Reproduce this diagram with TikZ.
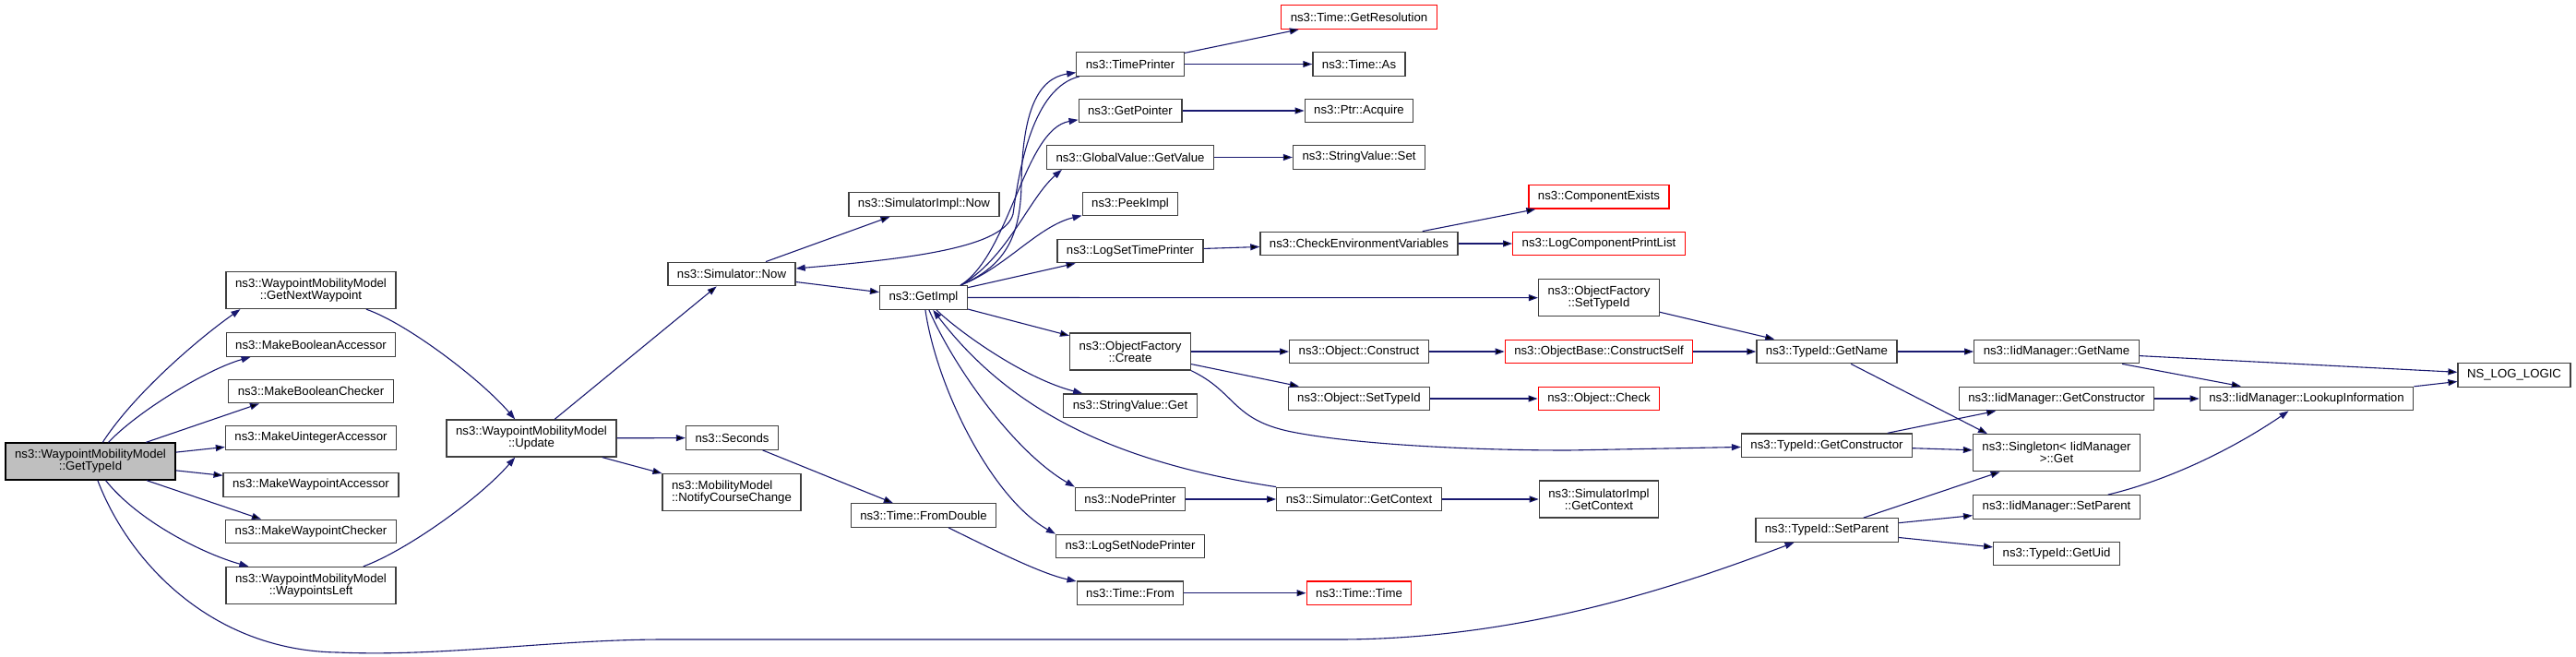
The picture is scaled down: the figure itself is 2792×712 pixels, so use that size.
\documentclass[tikz,border=0pt]{standalone}
\usepackage{fontspec}
\setmainfont{Liberation Sans}
\usetikzlibrary{arrows.meta}
\definecolor{edgeblue}{HTML}{191970}
\definecolor{boxgrey}{HTML}{404040}
\definecolor{rootfill}{HTML}{BFBFBF}

\begin{document}
\begin{tikzpicture}[x=1pt,y=-1pt,
  fn/.style={draw=boxgrey,line width=1.3pt,fill=white,inner xsep=10pt,inner ysep=2pt,
    minimum height=25.5pt,font=\fontsize{13.2}{13}\selectfont},
  fn2/.style={fn,minimum height=40pt,align=center},
  trunc/.style={fn,draw=red},
  root/.style={fn2,draw=black,fill=rootfill},
  call/.style={draw=edgeblue,line width=1.1pt,-{Triangle[length=10pt,width=7pt]}}]
\path[fill=white,use as bounding box] (0,0) rectangle (2792,712);

\node[root] (gettypeid) at (98,500) {ns3::WaypointMobilityModel\\::GetTypeId};
\node[fn2] (nextwp) at (337,314.5) {ns3::WaypointMobilityModel\\::GetNextWaypoint};
\node[fn] (boolacc) at (337,373.5) {ns3::MakeBooleanAccessor};
\node[fn] (boolchk) at (337,424) {ns3::MakeBooleanChecker};
\node[fn] (uintacc) at (337,474.5) {ns3::MakeUintegerAccessor};
\node[fn] (wpacc) at (337,525.5) {ns3::MakeWaypointAccessor};
\node[fn] (wpchk) at (337,576) {ns3::MakeWaypointChecker};
\node[fn2] (wpleft) at (337,634.5) {ns3::WaypointMobilityModel\\::WaypointsLeft};
\node[fn2] (update) at (576,475) {ns3::WaypointMobilityModel\\::Update};
\node[fn] (simnow) at (793,297) {ns3::Simulator::Now};
\node[fn] (seconds) at (793.5,474.5) {ns3::Seconds};
\node[fn2,align=left] (notify) at (793,533.3) {ns3::MobilityModel\\::NotifyCourseChange};
\node[fn] (simimplnow) at (1001.5,221.5) {ns3::SimulatorImpl::Now};
\node[fn] (getimpl) at (1001,322.5) {ns3::GetImpl};
\node[fn] (fromdouble) at (1001,558.5) {ns3::Time::FromDouble};
\node[fn] (timeprinter) at (1225,69.5) {ns3::TimePrinter};
\node[fn] (getpointer) at (1225,120) {ns3::GetPointer};
\node[fn] (getvalue) at (1225,170.5) {ns3::GlobalValue::GetValue};
\node[fn] (peekimpl) at (1225,221) {ns3::PeekImpl};
\node[fn] (logsettime) at (1225,272) {ns3::LogSetTimePrinter};
\node[fn2] (ofcreate) at (1225,381) {ns3::ObjectFactory\\::Create};
\node[fn] (svget) at (1225,439.7) {ns3::StringValue::Get};
\node[fn] (nodeprinter) at (1225,541) {ns3::NodePrinter};
\node[fn] (logsetnode) at (1225,592) {ns3::LogSetNodePrinter};
\node[fn] (timefrom) at (1225,642.7) {ns3::Time::From};
\node[trunc] (getres) at (1473,18.5) {ns3::Time::GetResolution};
\node[fn] (timeas) at (1473,69.5) {ns3::Time::As};
\node[fn] (acquire) at (1473,120) {ns3::Ptr::Acquire};
\node[fn] (svset) at (1473,170.5) {ns3::StringValue::Set};
\node[fn] (checkenv) at (1473,264) {ns3::CheckEnvironmentVariables};
\node[fn] (construct) at (1473,381) {ns3::Object::Construct};
\node[fn] (objsettid) at (1473,432) {ns3::Object::SetTypeId};
\node[fn] (simgetctx) at (1473,541) {ns3::Simulator::GetContext};
\node[trunc] (timetime) at (1473,642.7) {ns3::Time::Time};
\node[trunc] (compexists) at (1733,213.3) {ns3::ComponentExists};
\node[trunc] (logcomplist) at (1733,264) {ns3::LogComponentPrintList};
\node[fn2] (ofsettid) at (1733,322.7) {ns3::ObjectFactory\\::SetTypeId};
\node[trunc] (constructself) at (1733,381) {ns3::ObjectBase::ConstructSelf};
\node[trunc] (objcheck) at (1733,432) {ns3::Object::Check};
\node[fn2] (simimplctx) at (1733,541) {ns3::SimulatorImpl\\::GetContext};
\node[fn] (tidgetname) at (1980,381) {ns3::TypeId::GetName};
\node[fn] (tidgetctor) at (1980,482.7) {ns3::TypeId::GetConstructor};
\node[fn] (tidsetparent) at (1980,574.5) {ns3::TypeId::SetParent};
\node[fn] (iidgetname) at (2229,381) {ns3::IidManager::GetName};
\node[fn] (iidgetctor) at (2229,432) {ns3::IidManager::GetConstructor};
\node[fn2] (singleton) at (2229,490.7) {ns3::Singleton< IidManager\\>::Get};
\node[fn] (iidsetparent) at (2229,549.5) {ns3::IidManager::SetParent};
\node[fn] (getuid) at (2229,600) {ns3::TypeId::GetUid};
\node[fn] (lookup) at (2500,432) {ns3::IidManager::LookupInformation};
\node[fn] (nslog) at (2725,406.5) {NS\_LOG\_LOGIC};

\path[call]
  (gettypeid) edge ([xshift=-56pt]boolchk.south)
              edge (uintacc)
              edge (wpacc)
              edge ([xshift=-54pt]wpchk.north)
  (update) edge (simnow)
           edge (seconds)
           edge (notify)
  (simnow) edge (simimplnow)
           edge (getimpl)
  (getimpl) edge (logsettime)
            edge (ofsettid)
            edge (ofcreate)
  (timeprinter) edge (getres)
                edge (timeas)
  (getpointer) edge (acquire)
  (getvalue) edge (svset)
  (logsettime) edge (checkenv)
  (checkenv) edge (compexists)
             edge (logcomplist)
  (ofcreate) edge (construct)
             edge (objsettid)
  (construct) edge (constructself)
  (objsettid) edge (objcheck)
  (constructself) edge (tidgetname)
  (ofsettid) edge (tidgetname)
  (tidgetname) edge (iidgetname)
               edge ([xshift=-75pt]singleton.north)
  (tidgetctor) edge (iidgetctor)
               edge (singleton)
  (tidsetparent) edge (singleton)
                 edge (iidsetparent)
                 edge (getuid)
  (iidgetname) edge (nslog)
               edge (lookup)
  (iidgetctor) edge (lookup)
  (lookup) edge (nslog)
  (nodeprinter) edge (simgetctx)
  (simgetctx) edge (simimplctx)
  (seconds) edge (fromdouble)
  (timefrom) edge (timetime);

\draw[call] (gettypeid) .. controls (145,427) and (215,367) .. ([xshift=16pt]nextwp.south west);
\draw[call] (gettypeid) .. controls (150,445) and (225,400) .. ([xshift=27pt]boolacc.south west);
\draw[call] (gettypeid) .. controls (150,565) and (220,600) .. ([xshift=25pt]wpleft.north west);
\draw[call] (gettypeid) .. controls (140,610) and (230,705) .. (366,707)
  .. controls (480,712) and (600,693) .. (720,693) -- (1450,693)
  .. controls (1650,693) and (1820,635) .. (tidsetparent);
\draw[call] (nextwp) .. controls (440,350) and (520,410) .. (update);
\draw[call] (wpleft) .. controls (440,597) and (520,540) .. (update);
\draw[call] (timeprinter) .. controls (1120,95) and (1105,180) .. (1098,232)
  .. controls (1088,268) and (990,280) .. (simnow);
\draw[call] ([xshift=-8pt]getimpl.north east) .. controls (1085,290) and (1106,262) .. (1107,200)
  .. controls (1108,120) and (1125,85) .. (timeprinter);
\draw[call] ([xshift=-8pt]getimpl.north east) .. controls (1095,275) and (1110,140) .. (getpointer);
\draw[call] ([xshift=-8pt]getimpl.north east) .. controls (1092,280) and (1115,215) .. ([xshift=17pt]getvalue.south west);
\draw[call] ([xshift=-8pt]getimpl.north east) .. controls (1090,290) and (1125,245) .. (peekimpl);
\draw[call] (getimpl) .. controls (1040,360) and (1110,410) .. (svget);
\draw[call] (getimpl) .. controls (1035,400) and (1100,490) .. (nodeprinter.north west);
\draw[call] (getimpl) .. controls (1015,420) and (1075,540) .. (logsetnode.north west);
\draw[call] (simgetctx.north west) .. controls (1200,500) and (1091,440) .. (getimpl);
\draw[call] (ofcreate.south east) .. controls (1340,425) and (1335,455) .. (1400,468)
  .. controls (1470,482) and (1600,488) .. (1700,488) -- (tidgetctor);
\draw[call] (iidsetparent) .. controls (2360,518) and (2430,480) .. (lookup);
\draw[call] (fromdouble) .. controls (1085,600) and (1130,622) .. (timefrom);
\end{tikzpicture}
\end{document}
